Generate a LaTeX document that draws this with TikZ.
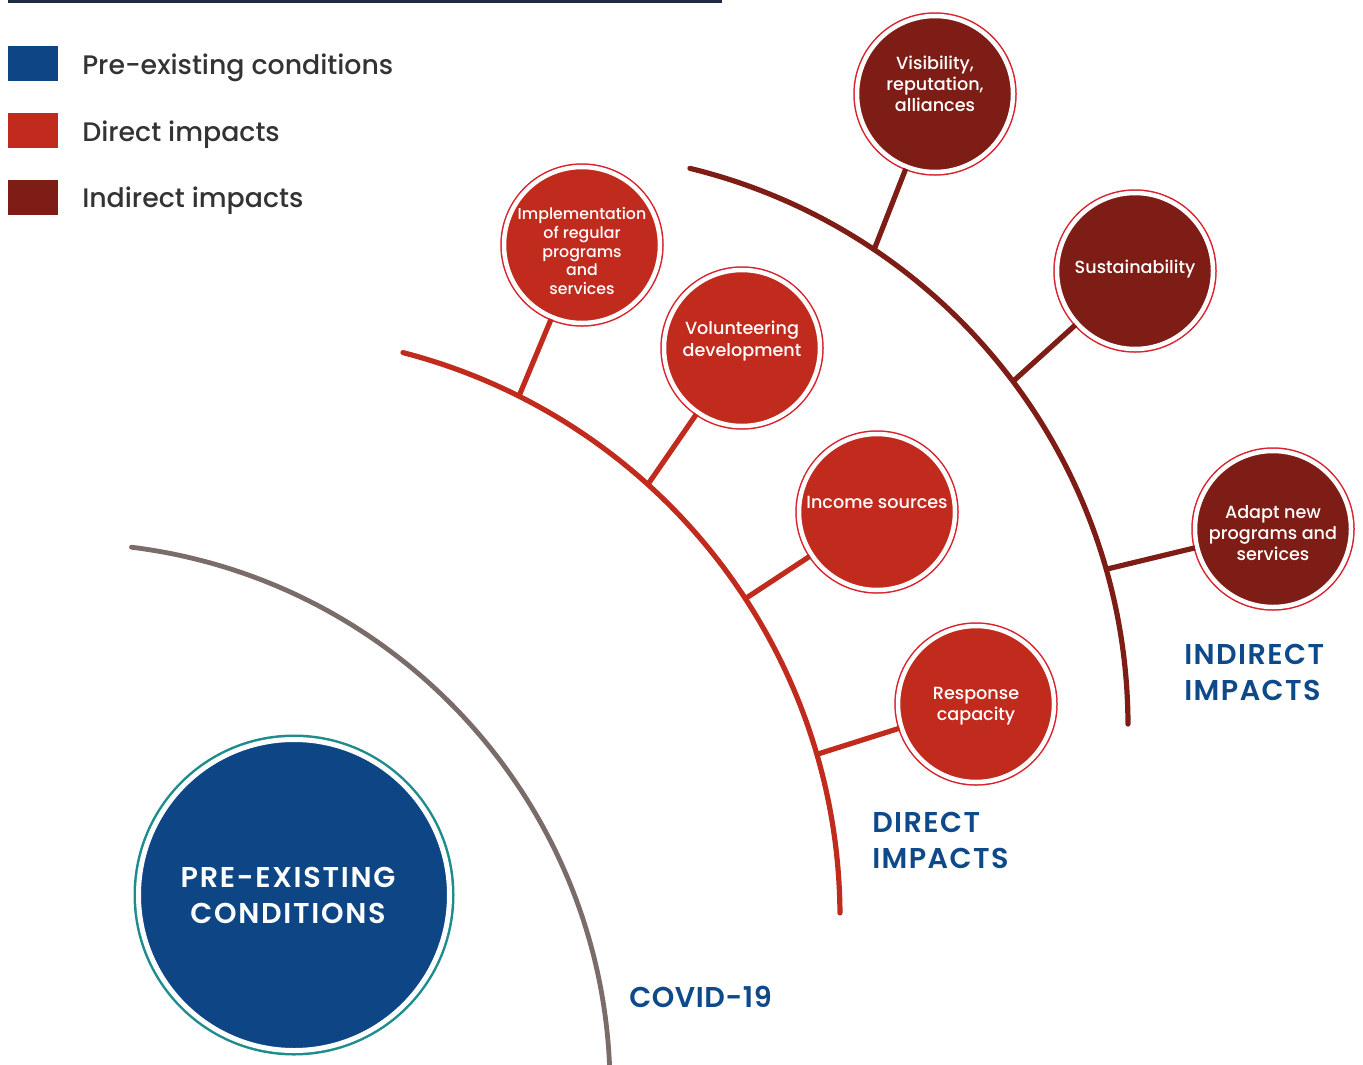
\documentclass[tikz,border=0pt]{standalone}
\usepackage{fontspec}
\setmainfont{Poppins}[UprightFont=* Medium]
\newfontfamily\labfont{Poppins}[UprightFont=* SemiBold]
\usetikzlibrary{calc}
\definecolor{navy}{HTML}{0D4585}
\definecolor{dred}{HTML}{C12B1E}
\definecolor{ired}{HTML}{7D1D16}
\definecolor{ringred}{HTML}{D9222E}
\definecolor{covgray}{HTML}{7A6C68}
\definecolor{ringteal}{HTML}{1E8C8C}
\definecolor{txtgray}{HTML}{333333}
\definecolor{topnavy}{HTML}{1F2A44}
\definecolor{labblue}{HTML}{0E4A8A}
\begin{document}
\begin{tikzpicture}[x=0.75pt,y=-0.75pt,
  bub/.style={circle, minimum size=117pt, inner sep=0pt, draw=white, line width=3.375pt,
    preaction={draw=ringred, line width=5.625pt}},
  dbub/.style={bub, fill=dred},
  ibub/.style={bub, fill=ired},
  bubtxt/.style={text=white, align=center, inner sep=0pt, font=\fontsize{13.2}{15.8}\selectfont},
  arcline/.style={line width=3.9pt, line cap=round},
  branch/.style={line width=3.9pt},
  legsq/.style={rectangle, minimum width=37.5pt, minimum height=26.25pt, inner sep=0pt},
  legtxt/.style={anchor=west, text=txtgray, inner sep=0pt, font=\fontsize{20.1}{24}\selectfont},
  lab/.style={text=labblue, inner sep=0pt, align=left, anchor=west,
    font=\labfont\fontsize{21.5}{27}\selectfont\addfontfeatures{LetterSpace=#1}},
  lab/.default=5]
\useasboundingbox (0,0) rectangle (1363,1064);
\clip (0,0) rectangle (1363,1064);
% top rule
\draw[topnavy, line width=2.25pt] (8,1) -- (722,1);
% legend
\node[legsq, fill=navy] (sq1) at (33,63.5) {};
\node[legsq, fill=dred] (sq2) at (33,130.5) {};
\node[legsq, fill=ired] (sq3) at (33,197.5) {};
\node[legtxt] (lg1) at (82,68) {Pre-existing conditions};
\node[legtxt] (lg2) at (82,135) {Direct impacts};
\node[legtxt] (lg3) at (82,201) {Indirect impacts};
% arcs
\draw[arcline, covgray, line width=3.6pt] ([shift={(64,1089)}]-82.9:546) arc[start angle=-82.9, end angle=5, radius=546];
\draw[arcline, dred] ([shift={(257,917)}]-75.5:583) arc[start angle=-75.5, end angle=-0.4, radius=583];
\draw[arcline, ired] ([shift={(554,726)}]-76.3:574) arc[start angle=-76.3, end angle=-0.2, radius=574];
% junctions on arcs
\coordinate (jimpl) at ([shift={(257,917)}]-63.3:583);
\coordinate (jvol)  at ([shift={(257,917)}]-47.9:583);
\coordinate (jinc)  at ([shift={(257,917)}]-33.1:583);
\coordinate (jresp) at ([shift={(257,917)}]-16.2:583);
\coordinate (jvis)  at ([shift={(554,726)}]-56.1:574);
\coordinate (jsus)  at ([shift={(554,726)}]-36.9:574);
\coordinate (jadp)  at ([shift={(554,726)}]-15.85:574);
% bubbles
\node[dbub] (impl) at (582,245) {};
\node[dbub] (vol) at (742,348) {};
\node[dbub] (inc) at (877,512) {};
\node[dbub] (resp) at (976,704) {};
\node[ibub] (vis) at (935,94) {};
\node[ibub] (sus) at (1135,271) {};
\node[ibub] (adp) at (1273,529) {};
% bubble texts
\node[bubtxt, font=\fontsize{11.85}{13.9}\selectfont] (implt) at ($(impl.center)+(0,6)$) {Implementation\\of regular\\programs\\and\\services};
\node[bubtxt] (volt) at ($(vol.center)+(0,-7)$) {Volunteering\\development};
\node[bubtxt] (inct) at ($(inc.center)+(0,-10)$) {Income sources};
\node[bubtxt] (respt) at ($(resp.center)+(0,2)$) {Response\\capacity};
\node[bubtxt] (vist) at ($(vis.center)+(0,-10)$) {Visibility,\\reputation,\\alliances};
\node[bubtxt] (sust) at ($(sus.center)+(0,-2)$) {Sustainability};
\node[bubtxt] (adpt) at ($(adp.center)+(0,4)$) {Adapt new\\programs and\\services};
% connectors
\draw[branch, dred] (jimpl) -- (impl);
\draw[branch, dred] (jvol) -- (vol);
\draw[branch, dred] (jinc) -- (inc);
\draw[branch, dred] (jresp) -- (resp);
\draw[branch, ired] (jvis) -- (vis);
\draw[branch, ired] (jsus) -- (sus);
\draw[branch, ired] (jadp) -- (adp);
% pre-existing
\node[circle, minimum size=233.25pt, inner sep=0pt, fill=navy, draw=white, line width=3.75pt,
  preaction={draw=ringteal, line width=7.5pt}] (pre) at (294,895) {};
\node[text=white, align=center, inner sep=0pt,
  font=\labfont\fontsize{21.5}{27}\selectfont\addfontfeatures{LetterSpace=6}] (pret) at ($(pre.center)+(-6,0)$) {PRE-EXISTING\\CONDITIONS};
% labels
\node[lab=2] (covid) at (629,997) {COVID-19};
\node[lab=5] (dlab) at (872,840) {DIRECT\\IMPACTS};
\node[lab=5] (ilab) at (1184,672) {INDIRECT\\IMPACTS};
\end{tikzpicture}
\end{document}
